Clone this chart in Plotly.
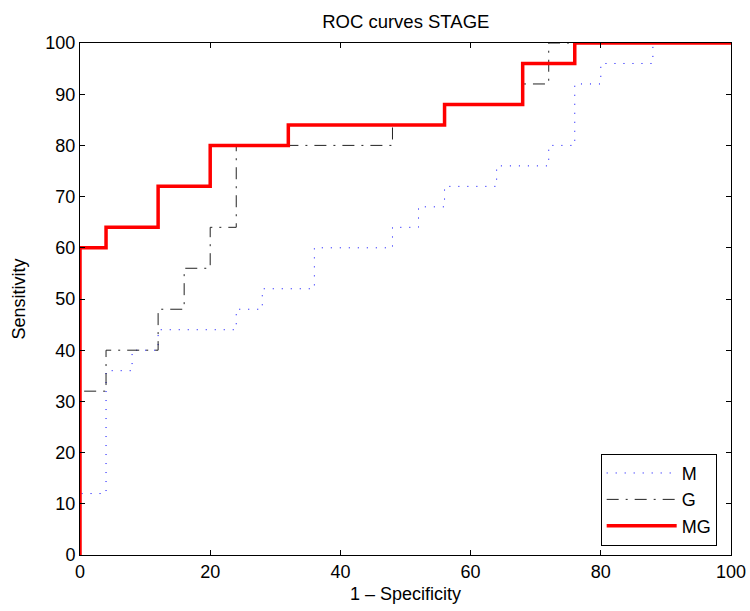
import plotly.graph_objects as go

# ROC points (1 - specificity, sensitivity) in percent
m_fpr = [0, 0, 4, 8, 12, 24, 28, 36, 48, 52, 56, 64, 72, 76, 80, 88, 100]
m_tpr = [0, 12, 36, 40, 44, 48, 52, 60, 64, 68, 72, 76, 80, 92, 96, 100, 100]

g_fpr = [0, 0, 4, 12, 16, 20, 24, 48, 56, 68, 72, 100]
g_tpr = [0, 32, 40, 48, 56, 64, 80, 84, 88, 92, 100, 100]

mg_fpr = [0, 0, 4, 12, 20, 32, 56, 68, 76, 100]
mg_tpr = [0, 60, 64, 72, 80, 84, 88, 96, 100, 100]

x_ticks = [0, 20, 40, 60, 80, 100]
y_ticks = [0, 10, 20, 30, 40, 50, 60, 70, 80, 90, 100]

FONT = "Liberation Sans, Arial, sans-serif"

fig = go.Figure()
fig.add_trace(go.Scatter(x=m_fpr, y=m_tpr, mode="lines", name="M", line_shape="hv",
                         line=dict(color="#0000ff", width=1, dash="1px,8px")))
fig.add_trace(go.Scatter(x=g_fpr, y=g_tpr, mode="lines", name="G", line_shape="hv",
                         line=dict(color="#222222", width=1, dash="12px,7px,2px,7px")))
fig.add_trace(go.Scatter(x=mg_fpr, y=mg_tpr, mode="lines", name="MG", line_shape="hv",
                         line=dict(color="#ff0000", width=3.5)))

axis_common = dict(showgrid=False, zeroline=False, showline=True, linecolor="black",
                   linewidth=1, mirror="ticks", ticks="inside", ticklen=5,
                   tickcolor="black", tickfont=dict(size=18, color="black"),
                   automargin=False)

fig.update_layout(
    width=750, height=611,
    margin=dict(l=80, r=19, t=43, b=56),
    paper_bgcolor="white", plot_bgcolor="white",
    font=dict(family=FONT, size=18, color="black"),
    title=dict(text="ROC curves STAGE", x=0.541, xanchor="center", y=0.965, yanchor="middle",
               font=dict(size=18.5, color="black")),
    xaxis=dict(range=[0, 100], tickvals=x_ticks, title=dict(text="1 \u2013 Specificity", standoff=6,
               font=dict(size=18)), **axis_common),
    yaxis=dict(range=[0, 100], tickvals=y_ticks, title=dict(text="Sensitivity", standoff=15,
               font=dict(size=18)), **axis_common),
    legend=dict(x=0.978, xanchor="right", y=0.018, yanchor="bottom", bordercolor="black",
                borderwidth=1, bgcolor="white", font=dict(size=18, color="black"),
                tracegroupgap=0, itemwidth=70),
    showlegend=True,
)

fig.write_html("out.html")
